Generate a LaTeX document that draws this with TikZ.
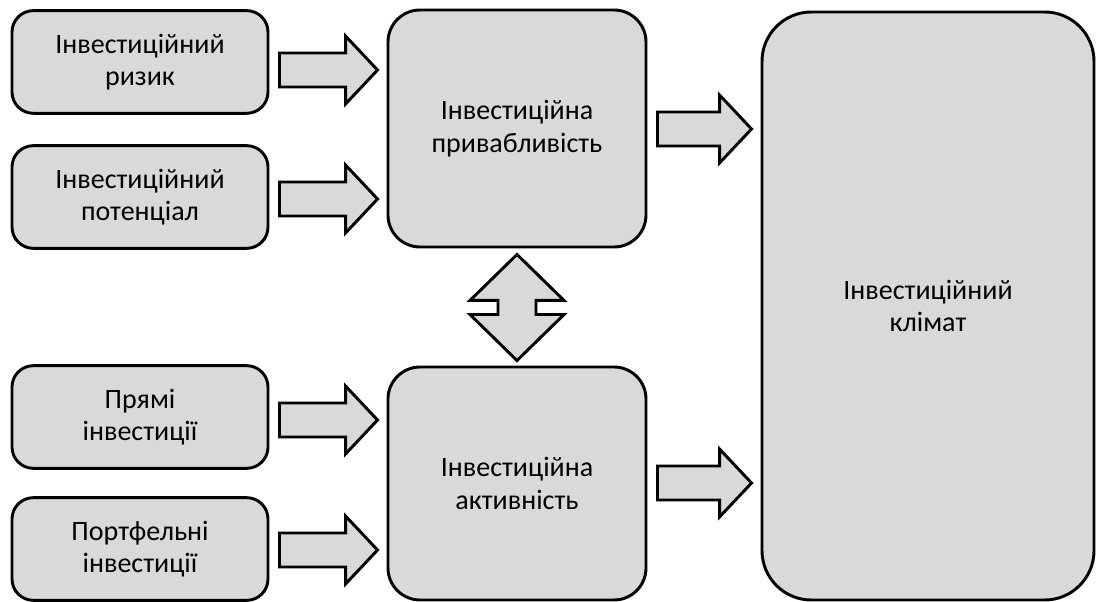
\documentclass[tikz,border=0pt]{standalone}
\usepackage{fontspec}
\setmainfont{Carlito}
\usetikzlibrary{calc}

\definecolor{boxgray}{RGB}{217,217,217}

% block arrow from the right side of #1 to the left side of #2, at height #3
\newcommand{\fatarrow}[3]{%
  \coordinate (tail) at ($(#1.east |- 0,#3)+(10,0)$);
  \coordinate (tip) at ($(#2.west |- 0,#3)+(-9,0)$);
  \draw[arrowbox] ($(tail)+(0,-17)$) -- ($(tip)+(-32,-17)$) -- ($(tip)+(-32,-34)$) -- (tip)
    -- ($(tip)+(-32,34)$) -- ($(tip)+(-32,17)$) -- ($(tail)+(0,17)$) -- cycle;
}

\begin{document}
\begin{tikzpicture}[x=0.75pt, y=-0.75pt,
    box/.style={draw, line width=2.2pt, fill=boxgray, align=center,
        font=\fontsize{21}{24.5}\selectfont, inner sep=0pt},
    smallbox/.style={box, rounded corners=16pt, minimum width=192pt, minimum height=77pt},
    midbox/.style={box, rounded corners=24pt, minimum width=193.5pt, minimum height=176pt},
    arrowbox/.style={draw, line width=2.2pt, fill=boxgray, line join=miter}]
\useasboundingbox (0,0) rectangle (1096,602);

% Sources
\node[smallbox] (risk) at (140,62) {Інвестиційний\\ризик};
\node[smallbox] (potential) at (140,197) {Інвестиційний\\потенціал};
\node[smallbox] (direct) at (140,417) {Прямі\\інвестиції};
\node[smallbox] (portfolio) at (140,549) {Портфельні\\інвестиції};

% Middle column
\node[midbox, minimum height=177.75pt] (attract) at (517,128.5) {Інвестиційна\\привабливість};
\node[midbox, minimum height=174.75pt] (activity) at (517,483.5) {Інвестиційна\\активність};

% Result
\node[box, rounded corners=37pt, minimum width=249pt, minimum height=441pt] (climate) at (928,306) {Інвестиційний\\клімат};

% Arrows into the middle column
\fatarrow{risk}{attract}{70}
\fatarrow{potential}{attract}{199}
\fatarrow{direct}{activity}{420}
\fatarrow{portfolio}{activity}{550}

% Arrows into the result
\fatarrow{attract}{climate}{129}
\fatarrow{activity}{climate}{483}

% Two-way arrow
\coordinate (up) at ($(attract.south)+(0,6)$);
\coordinate (dn) at ($(activity.north)+(0,-5)$);
\draw[arrowbox] (up) -- ($(up)+(47,46)$) -- ($(up)+(19,46)$) -- ($(dn)+(19,-46)$) -- ($(dn)+(47,-46)$)
    -- (dn) -- ($(dn)+(-47,-46)$) -- ($(dn)+(-19,-46)$) -- ($(up)+(-19,46)$) -- ($(up)+(-47,46)$) -- cycle;
\end{tikzpicture}
\end{document}
